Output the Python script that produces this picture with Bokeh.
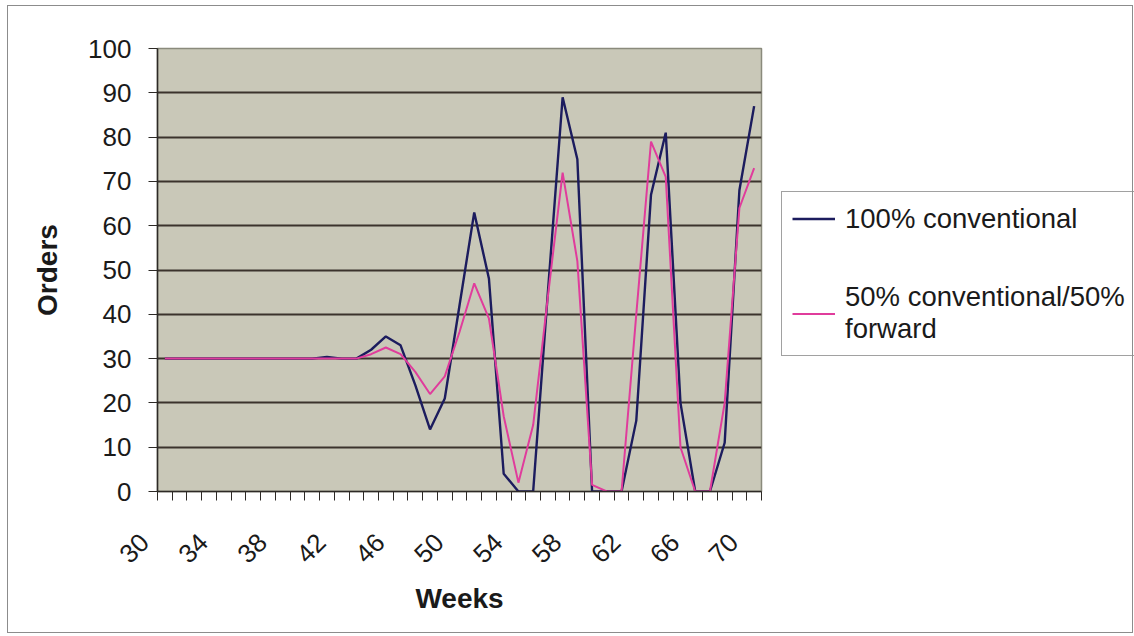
from bokeh.plotting import figure
from bokeh.layouts import row
from bokeh.models import (ColumnDataSource, FixedTicker, Legend, LegendItem,
                          InlineStyleSheet)
from bokeh.embed import file_html
from bokeh.resources import INLINE
import math

# Weekly orders under two ordering policies
weeks = [30, 31, 32, 33, 34, 35, 36, 37, 38, 39, 40, 41, 42, 43, 44, 45, 46, 47,
         48, 49, 50, 51, 52, 53, 54, 55, 56, 57, 58, 59, 60, 61, 62, 63, 64, 65,
         66, 67, 68, 69, 70]
conventional = [30, 30, 30, 30, 30, 30, 30, 30, 30, 30, 30, 30.4, 30, 30, 32, 35,
                33, 24, 14, 21, 42, 63, 48, 4, 0, 0, 45, 89, 75, 0, 0, 0, 16, 67,
                81, 20, 0, 0, 11, 68, 87]
mixed_forward = [30, 30, 30, 30, 30, 30, 30, 30, 30, 30, 30, 30, 30, 30, 31, 32.5,
                 31, 27, 22, 26, 36, 47, 39, 17, 2, 15, 44, 72, 52, 1.5, 0, 0, 40,
                 79, 71, 10, 0, 0, 20, 64, 73]

tick_weeks = [30, 34, 38, 42, 46, 50, 54, 58, 62, 66, 70]
y_ticks = [0, 10, 20, 30, 40, 50, 60, 70, 80, 90, 100]

series_names = ["100% conventional", "50% conventional/50%\nforward"]

W, H = 1134, 636
MAIN_W = 781
FONT = "Liberation Sans"
INK = "#1a1a1a"
AXIS = "#2d2a26"
BLUE = "#1c1c5e"
PINK = "#e03c9c"

src = ColumnDataSource(dict(week=weeks, conv=conventional, mix=mixed_forward))

p = figure(width=MAIN_W, height=H, output_backend="svg", toolbar_location=None,
           x_range=(weeks[0] - 0.5, weeks[-1] + 0.5), y_range=(0, 100),
           min_border_left=157, min_border_right=MAIN_W - 761,
           min_border_top=48, min_border_bottom=H - 491)

p.background_fill_color = "#c9c8b8"
p.border_fill_color = "white"
p.outline_line_color = "#8a8a7c"
p.outline_line_width = 1.5

# grid: horizontal only
p.xgrid.visible = False
p.ygrid.ticker = FixedTicker(ticks=y_ticks)
p.ygrid.grid_line_color = "#3b332c"
p.ygrid.grid_line_width = 1.8

# y axis
ya = p.yaxis[0]
ya.ticker = FixedTicker(ticks=y_ticks)
ya.axis_line_color = AXIS
ya.axis_line_width = 1.5
ya.major_tick_line_color = AXIS
ya.major_tick_out = 9
ya.major_tick_in = 0
ya.minor_tick_line_color = None
ya.major_label_text_font = FONT
ya.major_label_text_font_size = "26px"
ya.major_label_text_color = INK
ya.major_label_standoff = 17
ya.axis_label = "Orders"
ya.axis_label_text_font = FONT
ya.axis_label_text_font_size = "28px"
ya.axis_label_text_font_style = "bold"
ya.axis_label_text_color = INK
ya.axis_label_standoff = 22

# x axis: tick marks between weeks, a label every fourth week
xa = p.xaxis[0]
boundaries = [w - 0.5 for w in weeks] + [weeks[-1] + 0.5]
xa.ticker = FixedTicker(ticks=tick_weeks, minor_ticks=boundaries)
xa.axis_line_color = AXIS
xa.axis_line_width = 1.5
xa.major_tick_line_color = None
xa.major_tick_out = 9
xa.major_tick_in = 0
xa.minor_tick_line_color = AXIS
xa.minor_tick_out = 9
xa.minor_tick_in = 0
xa.major_label_orientation = math.pi / 4
# rotated labels end a little before their week, as in the spreadsheet layout
pad = "\u00a0" * 4
xa.major_label_overrides = {w: f"{w}{pad}" for w in tick_weeks}
xa.major_label_text_font = FONT
xa.major_label_text_font_size = "26px"
xa.major_label_text_color = INK
xa.major_label_standoff = 17
xa.axis_label = "Weeks"
xa.axis_label_text_font = FONT
xa.axis_label_text_font_size = "28px"
xa.axis_label_text_font_style = "bold"
xa.axis_label_text_color = INK
xa.axis_label_standoff = 0

p.line("week", "conv", source=src, line_color=BLUE, line_width=2.4)
p.line("week", "mix", source=src, line_color=PINK, line_width=2.0)

# legend panel to the right of the plot area; its frame lines up with the
# plot frame, so the legend location is measured from y = 0 of the plot
lp = figure(width=W - MAIN_W, height=H, output_backend="svg", toolbar_location=None,
            x_axis_type=None, y_axis_type=None, min_border=0,
            x_range=(0, 1), y_range=(0, 1))
lp.outline_line_color = None
lp.background_fill_color = "white"
lp.border_fill_color = "white"
# legend keys: same series, drawn outside this panel's visible range
k_conv = lp.line("week", "conv", source=src, line_color=BLUE, line_width=2.4)
k_mix = lp.line("week", "mix", source=src, line_color=PINK, line_width=2.0)

legend = Legend(items=[LegendItem(label=series_names[0], renderers=[k_conv]),
                       LegendItem(label=series_names[1], renderers=[k_mix])],
                location=(0, 135))
legend.border_line_color = "#444444"
legend.border_line_width = 1.2
legend.background_fill_color = "white"
legend.background_fill_alpha = 1.0
legend.label_text_font = FONT
legend.label_text_font_size = "27.5px"
legend.label_text_color = INK
legend.glyph_width = 43
legend.glyph_height = 33
legend.label_height = 33
legend.label_width = 280
legend.label_standoff = 10
legend.padding = 10
legend.spacing = 46
legend.margin = 0
lp.add_layout(legend, "center")

layout = row(p, lp, spacing=0)
# thin grey frame around the whole chart area
layout.stylesheets = [InlineStyleSheet(css=(
    ":host { position: relative; } "
    ":host::after { content: ''; position: absolute; left: 7px; top: 5px; "
    "right: 1px; bottom: 3px; border: 1px solid #8c8c8c; pointer-events: none; }"))]

open("out.html", "w").write(file_html(layout, INLINE))
